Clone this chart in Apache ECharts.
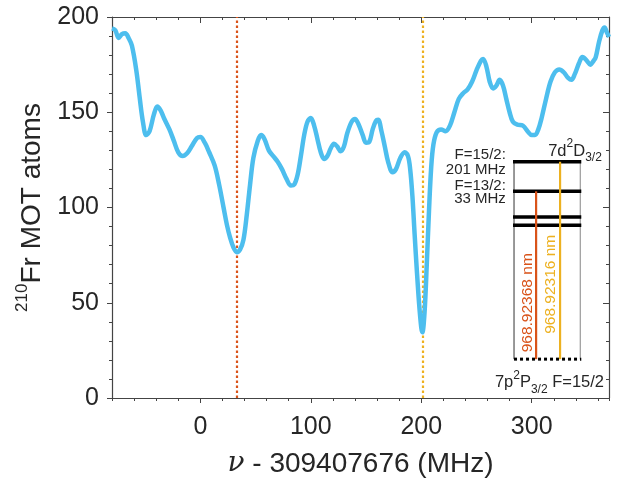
<!DOCTYPE html>
<html><head><meta charset="utf-8">
<script src="https://cdn.jsdelivr.net/npm/echarts@6/dist/echarts.min.js"></script>
<style>html,body{margin:0;padding:0;background:#fff}#c{width:624px;height:483px}</style>
</head><body><div id="c"></div>
<script>
// ---- data ----
const freq = [-80,-77,-74,-71,-68,-65,-62,-58,-55,-52,-49,-46,-42,-39,-36,-33,-28,-24,-20,-16,-12,-8,-3,0,4,8,13,17,21,24,27,30,33,36,39,42,45,48,52,55,58,62,66,70,74,78,82,85,88,91,94,97,100,103,106,109,112,115,118,121,124,127,130,133,137,140,143,147,150,153,156,159,161,164,167,170,174,177,181,185,188,190,192,194,196,198,200,201,203,205,207,209,211,214,218,222,226,230,234,238,242,246,250,254,256,259,262,265,268,271,274,277,280,283,287,292,297,300,303,306,309,313,317,321,325,329,333,336,339,343,346,350,353,356,358,361,364,366,368,370];
const atoms = [194,193,189,191,191.5,189,185,172,158,145,138,140,149,153,151,147,141,135,129,127,128.5,132,136.5,137,134,129,122,112,100,91,84,79,76.5,78,83,96,112,126,135,138,136,130,127,124,120,115,111.5,112,117,127,138,145,147,143,136,129,125.5,127,131,133.5,132,129.5,132,139,145,146.5,144,138,134,134.5,141,145.5,146,140,132,124,118.5,120,126,129,127,120,106,86,67,50,37,34.5,45,70,98,121,133,139.5,141,140,143,150,157,160,162,166,172,177,178,174,166,162.5,164,167,164,157,150,145,143.5,143,139.5,138,138,141,147,157,166,171,172.5,171,168,167,170,176,179,177,175,177,179,187,193,194.5,192,189.5];
const markerFreqs = [33, 201];
const markerColors = ['#D95319', '#EDB120'];
const xTickLabels = [0, 100, 200, 300];
const yTickLabels = [0, 50, 100, 150, 200];
// inset level scheme (in axis units)
const levelEnergies = [124, 108.5, 95, 90.7];
const groundLevel = 20.4;
const insetSpan = [284, 344];
const transitionX = [304, 325.7];
const transitionTop = [108.5, 124];
const transitionLabels = ['968.92368 nm', '968.92316 nm'];
const transitionLabelY = [50, 59.7];
const transitionLabelX = [296.7, 317.3];
const hfLabels = [['F=15/2:', '201 MHz'], ['F=13/2:', '33 MHz']];
const hfLabelY = [[127.7, 120], [111.5, 104.7]];

const FONT = '"Liberation Sans", Arial, Helvetica, sans-serif';
const TXT = '#262626';
const AX = '#444';

function renderInset(params, api) {
  if (params.dataIndex !== 0) return null;
  const c = (x, y) => api.coord([x, y]);
  const ch = [];
  const xl = insetSpan[0], xr = insetSpan[1];
  const tl = c(xl, levelEnergies[0]), br = c(xr, groundLevel);
  ch.push({type:'line', shape:{x1:tl[0], y1:tl[1], x2:tl[0], y2:br[1]}, style:{stroke:'#333', lineWidth:1}});
  ch.push({type:'line', shape:{x1:br[0], y1:tl[1], x2:br[0], y2:br[1]}, style:{stroke:'#999', lineWidth:1.2}});
  levelEnergies.forEach(e => {
    const a = c(xl, e), b = c(xr, e);
    ch.push({type:'line', shape:{x1:a[0]-1, y1:a[1], x2:b[0]+1, y2:b[1]}, style:{stroke:'#000', lineWidth:3.5}});
  });
  const g1 = c(xl, groundLevel), g2 = c(xr, groundLevel);
  ch.push({type:'line', shape:{x1:g1[0], y1:g1[1], x2:g2[0]+1, y2:g2[1]}, style:{stroke:'#000', lineWidth:3, lineDash:[3,3]}});
  transitionX.forEach((x, i) => {
    const a = c(x, transitionTop[i]), b = c(x, groundLevel);
    ch.push({type:'line', shape:{x1:a[0], y1:a[1], x2:b[0], y2:b[1]}, style:{stroke:markerColors[i], lineWidth:2.2}});
    const p = c(transitionLabelX[i], transitionLabelY[i]);
    ch.push({type:'text', x:p[0], y:p[1], rotation:Math.PI/2,
      style:{text:transitionLabels[i], fill:markerColors[i], fontSize:15.5, fontFamily:FONT, align:'center', verticalAlign:'middle'}});
  });
  hfLabels.forEach((pair, i) => {
    pair.forEach((t, j) => {
      const p = c(276.6, hfLabelY[i][j]);
      ch.push({type:'text', x:p[0], y:p[1], style:{text:t, fill:TXT, fontSize:15, fontFamily:FONT, align:'right', verticalAlign:'middle'}});
    });
  });
  const rich = {
    m:{fontSize:16.5, fontFamily:FONT, fill:TXT, color:TXT, lineHeight:26, verticalAlign:'middle'},
    sup:{fontSize:12, fontFamily:FONT, fill:TXT, color:TXT, lineHeight:12, verticalAlign:'top'},
    sub:{fontSize:12, fontFamily:FONT, fill:TXT, color:TXT, lineHeight:12, verticalAlign:'bottom'}
  };
  const pTop = c(363.5, 129.6);
  ch.push({type:'text', x:pTop[0], y:pTop[1], style:{text:'{m|7d}{sup|2}{m|D}{sub|3/2}', rich:rich, align:'right', verticalAlign:'middle'}});
  const pBot = c(365.5, 8.3);
  ch.push({type:'text', x:pBot[0], y:pBot[1], style:{text:'{m|7p}{sup|2}{m|P}{sub|3/2}{m| F=15/2}', rich:rich, align:'right', verticalAlign:'middle'}});
  return {type:'group', children:ch};
}

const chart = echarts.init(document.getElementById('c'), null, {renderer:'canvas'});
const xBase = {type:'value', min:-80, max:370, gridIndex:0, splitLine:{show:false}};
const yBase = {type:'value', min:0, max:200, gridIndex:0, splitLine:{show:false}};
chart.setOption({
  animation:false,
  backgroundColor:'#fff',
  grid:{left:112, right:15, top:17, bottom:84, containLabel:false},
  xAxis:[
    Object.assign({}, xBase, {position:'bottom', interval:20,
      axisLine:{onZero:false, lineStyle:{color:AX, width:1.2}},
      axisTick:{length:3, lineStyle:{color:AX}}, axisLabel:{show:false},
      name:'{i|ν}{n| - 309407676 (MHz)}', nameLocation:'middle', nameGap:52,
      nameTextStyle:{rich:{i:{fontSize:28, fontStyle:'italic', fontFamily:'"DejaVu Serif", serif', color:TXT}, n:{fontSize:28, fontFamily:FONT, color:TXT}}}}),
    Object.assign({}, xBase, {position:'bottom', axisLine:{show:false, onZero:false},
      axisTick:{customValues:xTickLabels, length:5, lineStyle:{color:AX}},
      axisLabel:{customValues:xTickLabels, fontSize:25, fontFamily:FONT, color:TXT, margin:17}}),
    Object.assign({}, xBase, {position:'top', interval:20,
      axisLine:{onZero:false, lineStyle:{color:AX, width:1.2}},
      axisTick:{inside:true, length:3, lineStyle:{color:AX}}, axisLabel:{show:false}}),
    Object.assign({}, xBase, {position:'top', axisLine:{show:false, onZero:false},
      axisTick:{inside:true, customValues:xTickLabels, length:6, lineStyle:{color:AX}}, axisLabel:{show:false}})
  ],
  yAxis:[
    Object.assign({}, yBase, {position:'left', interval:10,
      axisLine:{onZero:false, lineStyle:{color:AX, width:1.2}},
      axisTick:{length:3, lineStyle:{color:AX}}, axisLabel:{show:false},
      name:'{s|210}{n|Fr MOT atoms}', nameLocation:'middle', nameGap:62,
      nameTextStyle:{rich:{s:{fontSize:17, fontFamily:FONT, color:TXT, lineHeight:15, verticalAlign:'top'}, n:{fontSize:28, fontFamily:FONT, color:TXT, lineHeight:36, verticalAlign:'middle'}}}}),
    Object.assign({}, yBase, {position:'left', axisLine:{show:false, onZero:false},
      axisTick:{customValues:yTickLabels, length:5, lineStyle:{color:AX}},
      axisLabel:{customValues:yTickLabels, fontSize:25, fontFamily:FONT, color:TXT, margin:13}}),
    Object.assign({}, yBase, {position:'right', interval:10,
      axisLine:{onZero:false, lineStyle:{color:AX, width:1.2}},
      axisTick:{inside:true, length:3, lineStyle:{color:AX}}, axisLabel:{show:false}}),
    Object.assign({}, yBase, {position:'right', axisLine:{show:false, onZero:false},
      axisTick:{inside:true, customValues:yTickLabels, length:6, lineStyle:{color:AX}}, axisLabel:{show:false}})
  ],
  series:[
    {type:'line', xAxisIndex:0, yAxisIndex:0, data:freq.map((f, i) => [f, atoms[i]]),
      smooth:0.35, showSymbol:false, symbol:'none',
      lineStyle:{color:'#4DBEEE', width:4.5}, z:3,
      markLine:{silent:true, symbol:'none', label:{show:false}, z:2,
        data:markerFreqs.map((f, i) => ({xAxis:f, lineStyle:{color:markerColors[i], type:[2.5,2.5], width:2.2}}))}},
    {type:'custom', xAxisIndex:0, yAxisIndex:0, data:[[0, 0]], renderItem:renderInset, clip:false, z:4, silent:true}
  ]
});
</script></body></html>
